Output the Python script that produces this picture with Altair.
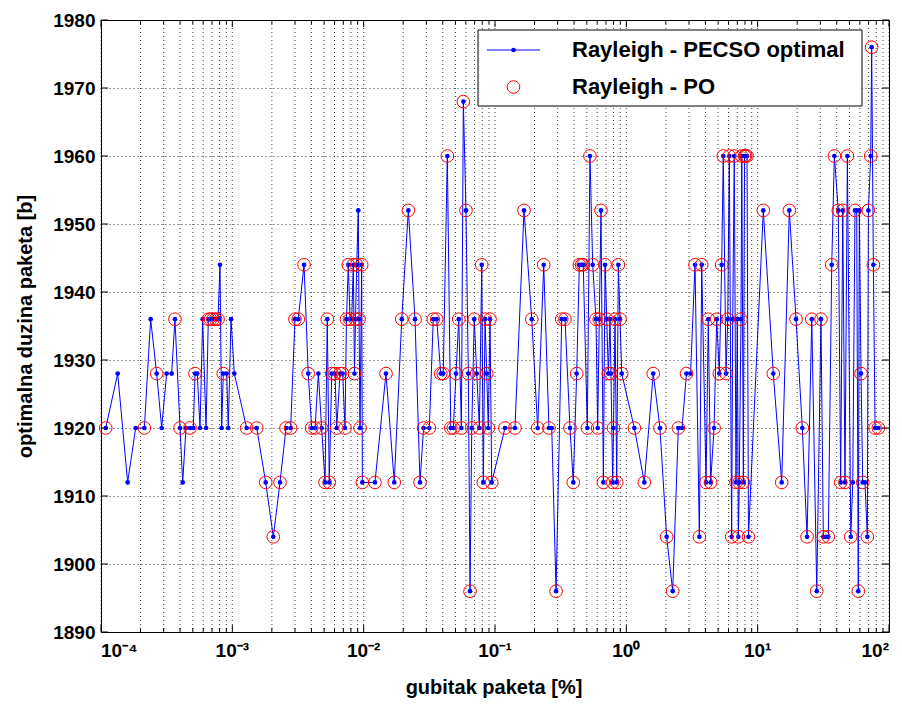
import altair as alt
import pandas as pd

# packet loss in % (stored as log10 of the value)
loss_log10 = [
    -3.964, -3.873, -3.797, -3.736, -3.670, -3.622, -3.576, -3.538, -3.500, -3.462,
    -3.437, -3.398, -3.378, -3.353, -3.322, -3.297, -3.284, -3.267, -3.246, -3.226,
    -3.200, -3.183, -3.166, -3.147, -3.128, -3.109, -3.094, -3.081, -3.069, -3.043,
    -3.031, -3.010, -2.985, -2.891, -2.814, -2.746, -2.688, -2.637, -2.591, -2.556,
    -2.523, -2.498, -2.454, -2.422, -2.396, -2.370, -2.345, -2.320, -2.294, -2.277,
    -2.262, -2.243, -2.218, -2.205, -2.180, -2.160, -2.142, -2.131, -2.117, -2.104,
    -2.091, -2.079, -2.070, -2.062, -2.053, -2.041, -2.035, -2.028, -2.015, -2.010,
    -1.914, -1.830, -1.767, -1.710, -1.660, -1.609, -1.571, -1.544, -1.500, -1.470,
    -1.444, -1.413, -1.394, -1.363, -1.337, -1.317, -1.297, -1.276, -1.256, -1.241,
    -1.221, -1.203, -1.190, -1.177, -1.158, -1.139, -1.119, -1.101, -1.089, -1.076,
    -1.063, -1.051, -1.038, -1.025, -0.924, -0.848, -0.779, -0.720, -0.675, -0.629,
    -0.589, -0.568, -0.535, -0.492, -0.467, -0.429, -0.404, -0.378, -0.358, -0.340,
    -0.328, -0.297, -0.277, -0.256, -0.231, -0.218, -0.206, -0.193, -0.175, -0.162,
    -0.149, -0.137, -0.124, -0.117, -0.104, -0.098, -0.086, -0.073, -0.061, -0.048,
    -0.035, 0.061, 0.137, 0.205, 0.256, 0.307, 0.353, 0.396, 0.424, 0.458,
    0.489, 0.523, 0.556, 0.574, 0.607, 0.624, 0.642, 0.668, 0.688, 0.708,
    0.726, 0.738, 0.759, 0.772, 0.784, 0.802, 0.810, 0.822, 0.835, 0.845,
    0.853, 0.860, 0.873, 0.879, 0.891, 0.900, 0.908, 0.919, 0.930, 1.043,
    1.119, 1.183, 1.241, 1.292, 1.340, 1.376, 1.412, 1.450, 1.482, 1.500,
    1.520, 1.538, 1.564, 1.584, 1.614, 1.632, 1.648, 1.665, 1.683, 1.709,
    1.724, 1.741, 1.754, 1.766, 1.774, 1.787, 1.800, 1.817, 1.835, 1.843,
    1.861, 1.868, 1.881, 1.894, 1.907, 1.919,
]

# optimal packet length [b], Rayleigh - PECSO optimal
pecso_len = [
    1920, 1928, 1912, 1920, 1920, 1936, 1928, 1920, 1928, 1928,
    1936, 1920, 1912, 1920, 1920, 1920, 1928, 1928, 1920, 1936,
    1920, 1936, 1936, 1936, 1936, 1936, 1944, 1920, 1928, 1928,
    1920, 1936, 1928, 1920, 1920, 1912, 1904, 1912, 1920, 1920,
    1936, 1936, 1944, 1928, 1920, 1920, 1928, 1920, 1912, 1936,
    1912, 1928, 1928, 1920, 1928, 1928, 1920, 1936, 1944, 1936,
    1936, 1944, 1928, 1936, 1944, 1952, 1936, 1920, 1944, 1912,
    1912, 1928, 1912, 1936, 1952, 1936, 1912, 1920, 1920, 1936,
    1936, 1928, 1928, 1960, 1920, 1920, 1928, 1936, 1920, 1968,
    1952, 1928, 1896, 1920, 1936, 1928, 1920, 1944, 1912, 1936,
    1928, 1920, 1936, 1912, 1920, 1920, 1952, 1936, 1920, 1944,
    1920, 1920, 1896, 1936, 1936, 1920, 1912, 1928, 1944, 1944,
    1944, 1920, 1960, 1944, 1936, 1920, 1936, 1952, 1912, 1944,
    1936, 1928, 1936, 1928, 1912, 1920, 1936, 1912, 1944, 1936,
    1928, 1920, 1912, 1928, 1920, 1904, 1896, 1920, 1920, 1928,
    1928, 1944, 1904, 1944, 1912, 1936, 1912, 1920, 1936, 1928,
    1944, 1960, 1928, 1936, 1960, 1904, 1936, 1960, 1912, 1936,
    1904, 1912, 1936, 1960, 1912, 1960, 1960, 1960, 1904, 1952,
    1928, 1912, 1952, 1936, 1920, 1904, 1936, 1896, 1936, 1904,
    1904, 1904, 1944, 1960, 1952, 1912, 1952, 1912, 1960, 1904,
    1912, 1952, 1952, 1896, 1952, 1928, 1912, 1912, 1904, 1952,
    1960, 1976, 1944, 1920, 1920, 1920,
]

# 1 where the Rayleigh - PO result is plotted (same value) at that loss
po_marked = [
    1, 0, 0, 0, 1, 0, 1, 0, 0, 0,
    1, 1, 0, 0, 1, 0, 1, 0, 0, 0,
    0, 1, 1, 1, 1, 1, 0, 0, 1, 0,
    0, 0, 0, 1, 1, 1, 1, 1, 1, 1,
    1, 1, 1, 1, 1, 1, 0, 1, 1, 1,
    1, 1, 1, 1, 1, 1, 1, 1, 1, 1,
    0, 1, 1, 1, 1, 0, 1, 1, 1, 1,
    1, 1, 1, 1, 1, 1, 1, 1, 1, 1,
    1, 1, 1, 1, 1, 1, 1, 1, 1, 1,
    1, 1, 1, 1, 1, 1, 1, 1, 1, 1,
    1, 1, 1, 1, 1, 1, 1, 1, 1, 1,
    1, 0, 1, 1, 1, 1, 1, 1, 1, 1,
    1, 1, 1, 1, 1, 1, 1, 1, 1, 1,
    1, 1, 0, 1, 1, 1, 1, 1, 1, 1,
    1, 1, 1, 1, 1, 1, 1, 1, 0, 1,
    0, 1, 1, 1, 1, 1, 1, 1, 1, 1,
    1, 1, 1, 1, 1, 1, 0, 1, 1, 0,
    1, 1, 1, 1, 1, 1, 1, 1, 1, 1,
    1, 1, 1, 1, 1, 1, 1, 1, 1, 1,
    0, 1, 1, 1, 1, 1, 1, 1, 1, 1,
    0, 1, 0, 1, 0, 1, 1, 0, 1, 1,
    1, 1, 1, 1, 0, 1,
]

x_major = [1e-4, 1e-3, 1e-2, 1e-1, 1.0, 10.0, 100.0]
x_major_labels = ["10⁻⁴", "10⁻³", "10⁻²", "10⁻¹", "10⁰", "10¹", "10²"]
x_label_align = ["left", "center", "center", "center", "center", "center", "right"]
x_minor = [k * 10.0 ** e for e in range(-4, 2) for k in range(2, 10)]
y_ticks = [1890, 1900, 1910, 1920, 1930, 1940, 1950, 1960, 1970, 1980]

legend_labels = ["Rayleigh - PECSO optimal", "Rayleigh - PO"]
x_title = "gubitak paketa [%]"
y_title = "optimalna duzina paketa [b]"

df = pd.DataFrame({
    "idx": list(range(len(pecso_len))),
    "loss": [10 ** e for e in loss_log10],
    "len": pecso_len,
    "po": po_marked,
})

W, H = 788, 612
FONT = "Liberation Sans"
BLUE = "#0000FF"
RED = "#FF0000"
TICK_FS = 19
TITLE_FS = 20
LEG_FS = 22

xscale = alt.Scale(type="log", domain=[1e-4, 1e2], nice=False)
yscale = alt.Scale(domain=[1890, 1980], nice=False, zero=False)

y_axis = alt.Axis(
    values=y_ticks, format="d", ticks=False, domain=False,
    grid=True, gridDash=[1, 3], gridColor="black", gridOpacity=0.75, gridWidth=1,
    labelFont=FONT, labelFontSize=TICK_FS, labelFontWeight="bold", labelColor="black",
    labelPadding=6, title=y_title, titleFont=FONT,
    titleFontSize=TITLE_FS, titleFontWeight="bold", titleColor="black", titlePadding=17,
)


def Y(field):
    return alt.Y(field, scale=yscale, axis=y_axis)


def X(field):
    return alt.X(field, scale=xscale, axis=None)


base = alt.Chart(df)

line = base.mark_line(color=BLUE, strokeWidth=1).encode(
    x=X("loss:Q"), y=Y("len:Q"), order="idx:Q",
)
dots = base.mark_circle(color=BLUE, size=22, opacity=1).encode(
    x=X("loss:Q"), y=Y("len:Q"),
)
po = base.transform_filter("datum.po == 1").mark_point(
    shape="circle", filled=False, color=RED, size=160, strokeWidth=1, opacity=1
).encode(x=X("loss:Q"), y=Y("len:Q"))

# vertical dotted grid (major + minor, MATLAB style)
xgrid = alt.Chart(pd.DataFrame({"v": x_major + x_minor})).mark_rule(
    color="black", strokeWidth=1, strokeDash=[1, 3], opacity=0.75
).encode(x=X("v:Q"), y=alt.value(0), y2=alt.value(H))

# inward tick marks on all four sides
maj_df = pd.DataFrame({"v": x_major})
min_df = pd.DataFrame({"v": x_minor})
yt_df = pd.DataFrame({"v": y_ticks})
tick_layers = []
for d, (a, b) in [(maj_df, (H, H - 7)), (maj_df, (0, 7)), (min_df, (H, H - 4)), (min_df, (0, 4))]:
    tick_layers.append(
        alt.Chart(d).mark_rule(color="black", strokeWidth=1).encode(
            x=X("v:Q"), y=alt.value(a), y2=alt.value(b),
        )
    )
for (a, b) in [(0, 7), (W, W - 7)]:
    tick_layers.append(
        alt.Chart(yt_df).mark_rule(color="black", strokeWidth=1).encode(
            y=Y("v:Q"), x=alt.value(a), x2=alt.value(b),
        )
    )

# x tick labels and title
xlabs = []
for v, t, al in zip(x_major, x_major_labels, x_label_align):
    xlabs.append(
        alt.Chart(alt.Data(values=[{"v": v, "t": t}])).mark_text(
            align=al, baseline="middle", font=FONT, fontSize=TICK_FS,
            fontWeight="bold", color="black"
        ).encode(x=X("v:Q"), y=alt.value(H + 19), text="t:N")
    )
xtitle = alt.Chart(alt.Data(values=[{"t": x_title}])).mark_text(
    align="center", baseline="middle", font=FONT, fontSize=TITLE_FS,
    fontWeight="bold", color="black"
).encode(x=alt.value(W / 2 - 1), y=alt.value(H + 56), text="t:N")

# legend box (top right)
one = alt.Data(values=[{"a": 1}])
LX0, LX1, LY0, LY1 = 377, 761, 10, 86
leg_box = alt.Chart(one).mark_rect(fill="white", stroke="black", strokeWidth=1).encode(
    x=alt.value(LX0), x2=alt.value(LX1), y=alt.value(LY0), y2=alt.value(LY1)
)
leg_line = alt.Chart(one).mark_rule(color=BLUE, strokeWidth=1).encode(
    x=alt.value(386), x2=alt.value(439), y=alt.value(30)
)
leg_dot = alt.Chart(one).mark_circle(color=BLUE, size=22, opacity=1).encode(
    x=alt.value(412.5), y=alt.value(30)
)
leg_circ = alt.Chart(one).mark_point(
    shape="circle", filled=False, color=RED, size=160, strokeWidth=1, opacity=1
).encode(x=alt.value(412.5), y=alt.value(67))
leg_texts = []
for lab, yy in zip(legend_labels, [30, 67]):
    leg_texts.append(
        alt.Chart(alt.Data(values=[{"t": lab}])).mark_text(
            align="left", baseline="middle", font=FONT, fontSize=LEG_FS,
            fontWeight="bold", color="black"
        ).encode(text="t:N", x=alt.value(471), y=alt.value(yy))
    )

chart = alt.layer(
    line, xgrid, dots, po, *tick_layers, *xlabs, xtitle,
    leg_box, leg_line, leg_dot, leg_circ, *leg_texts
).properties(
    width=W, height=H,
    autosize=alt.AutoSizeParams(type="none"),
    padding={"left": 93, "top": 12, "right": 4, "bottom": 70},
    background="white",
).configure_view(stroke="black", strokeWidth=1)

chart.save("out.html", embed_options={"renderer": "svg", "actions": False})
